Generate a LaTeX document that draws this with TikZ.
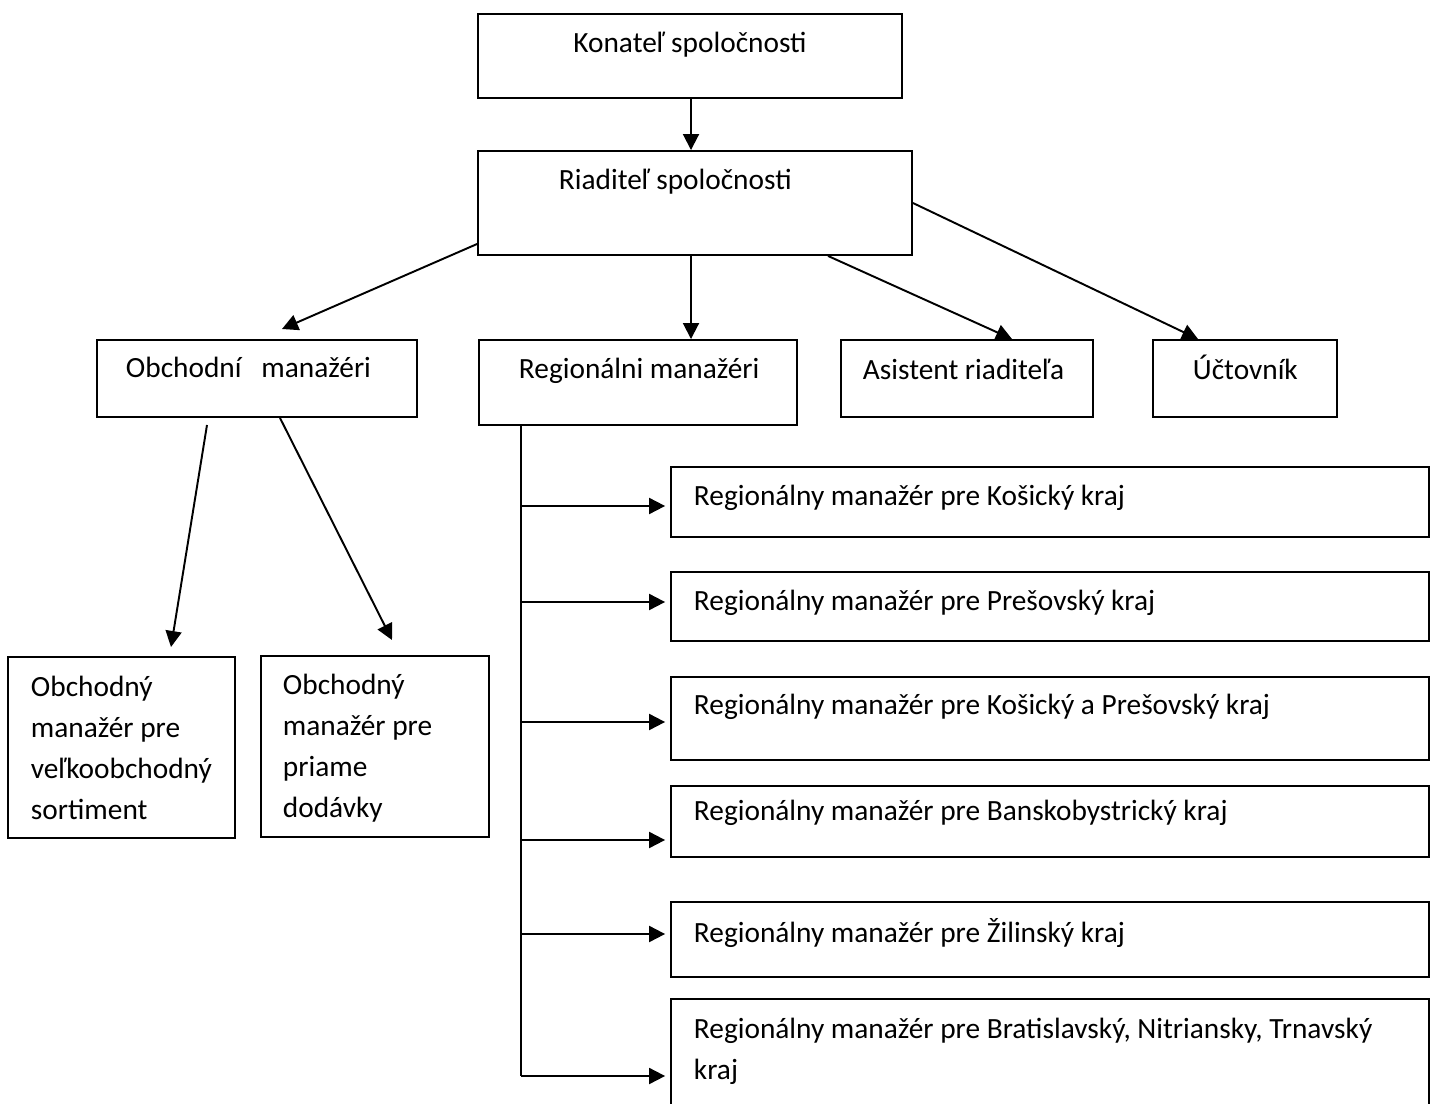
\documentclass[tikz,border=0pt]{standalone}
\usepackage{fontspec}
\setmainfont{Carlito}
\usetikzlibrary{arrows.meta}

\begin{document}
\begin{tikzpicture}[x=0.02cm,y=-0.02cm,
    >={Triangle[length=0.32cm,width=0.32cm]},
    line width=1.1pt,
    orgbox/.style={draw,rectangle,inner sep=0pt},
    lbl/.style={inner sep=0pt,align=left,font=\fontsize{16.7}{23.3}\selectfont}]
    \useasboundingbox (0,0) rectangle (1436,1104);

    % boxes
    \node[orgbox,minimum width=8.48cm,minimum height=1.68cm] (kon) at (690,56) {};
    \node[orgbox,minimum width=8.68cm,minimum height=2.08cm] (riad) at (695,203) {};
    \node[orgbox,minimum width=6.4cm,minimum height=1.54cm] (obch) at (257,378.5) {};
    \node[orgbox,minimum width=6.36cm,minimum height=1.7cm] (regm) at (638,382.5) {};
    \node[orgbox,minimum width=5.04cm,minimum height=1.54cm] (asis) at (967,378.5) {};
    \node[orgbox,minimum width=3.68cm,minimum height=1.54cm] (uct) at (1245,378.5) {};
    \node[orgbox,minimum width=4.54cm,minimum height=3.62cm] (velk) at (121.5,747.5) {};
    \node[orgbox,minimum width=4.56cm,minimum height=3.62cm] (prim) at (375,746.5) {};
    \node[orgbox,minimum width=15.16cm,minimum height=1.4cm] (rk) at (1050,502) {};
    \node[orgbox,minimum width=15.16cm,minimum height=1.38cm] (rp) at (1050,606.5) {};
    \node[orgbox,minimum width=15.16cm,minimum height=1.66cm] (rkp) at (1050,718.5) {};
    \node[orgbox,minimum width=15.16cm,minimum height=1.42cm] (rbb) at (1050,821.5) {};
    \node[orgbox,minimum width=15.16cm,minimum height=1.5cm] (rza) at (1050,939.5) {};
    \node[orgbox,minimum width=15.16cm,minimum height=2.22cm] (rbnt) at (1050,1054.5) {};

    % texts (multi-line ones sit on their last line)
    \node[lbl,anchor=base] (konT) at (690,53) {Konateľ spoločnosti};
    \node[lbl,anchor=base west] (riadT) at (558,190) {Riaditeľ spoločnosti};
    \node[lbl,anchor=base west] (obchT) at (125,378) {Obchodní\ \ \ manažéri};
    \node[lbl,anchor=base west] (regmT) at (518,379) {Regionálni manažéri};
    \node[lbl,anchor=base west] (asisT) at (862,380) {Asistent riaditeľa};
    \node[lbl,anchor=base west] (uctT) at (1192,380) {Účtovník};
    \node[lbl,anchor=base west] (velkT) at (30,819) {Obchodný\\manažér pre\\veľkoobchodný\\sortiment};
    \node[lbl,anchor=base west] (primT) at (282,817) {Obchodný\\manažér pre\\priame\\dodávky};
    \node[lbl,anchor=base west] (rkT) at (693,505) {Regionálny manažér pre Košický kraj};
    \node[lbl,anchor=base west] (rpT) at (693,610) {Regionálny manažér pre Prešovský kraj};
    \node[lbl,anchor=base west] (rkpT) at (693,714) {Regionálny manažér pre Košický a Prešovský kraj};
    \node[lbl,anchor=base west] (rbbT) at (693,820) {Regionálny manažér pre Banskobystrický kraj};
    \node[lbl,anchor=base west] (rzaT) at (693,942) {Regionálny manažér pre Žilinský kraj};
    \node[lbl,anchor=base west] (rbntT) at (693,1079) {Regionálny manažér pre Bratislavský, Nitriansky, Trnavský\\kraj};

    % free ends
    \coordinate (obchTip) at (282,329);
    \coordinate (velkTail) at (207,425);
    \coordinate (velkTip) at (171,647);
    \coordinate (primTip) at (392,640);
    \coordinate (spineEnd) at (521,1076);

    % connectors
    \draw[->] (kon.south -| 691,0) -- (riad.north -| 691,0);
    \draw[->] (riad.west |- 0,244) -- (obchTip);
    \draw[->] (riad.south -| 691,0) -- (regm.north -| 691,0);
    \draw[->] (riad.south -| 828,0) -- (asis.north -| 1012,0);
    \draw[->] (riad.east |- 0,203) -- (uct.north -| 1198,0);
    \draw[->] (velkTail) -- (velkTip);
    \draw[->] (obch.south -| 280,0) -- (primTip);
    \draw (regm.south -| spineEnd) -- (spineEnd);
    \foreach \n/\y in {rk/506,rp/602,rkp/722,rbb/840,rza/934,rbnt/1076}
        \draw[->,shorten >=0.1cm] (spineEnd |- 0,\y) -- (\n.west |- 0,\y);

\end{tikzpicture}
\end{document}
